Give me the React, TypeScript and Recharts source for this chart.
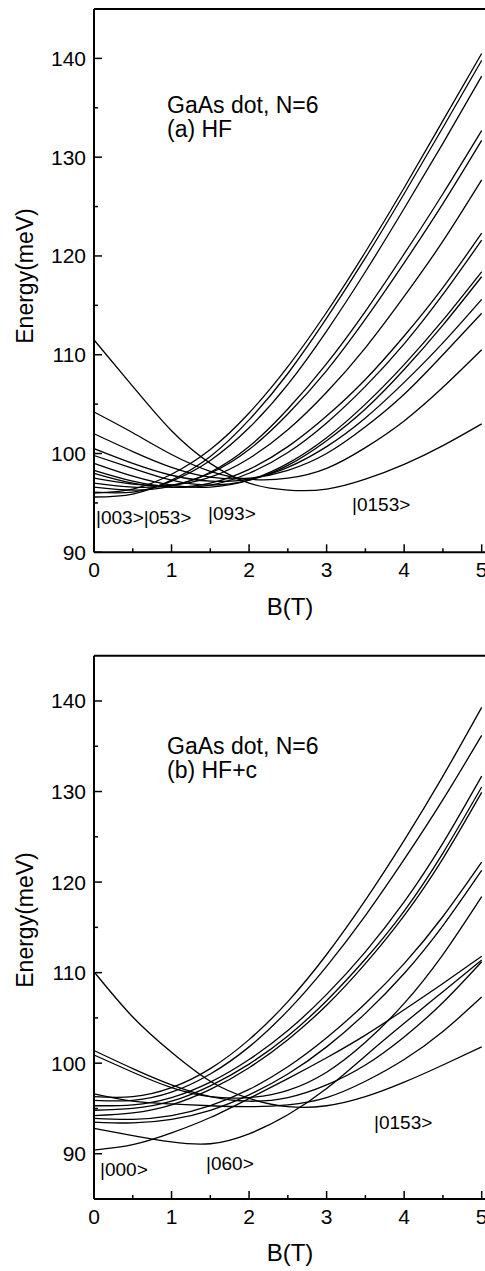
import { LineChart, Line, XAxis, YAxis, ReferenceLine } from 'recharts'

const FONT = '"Liberation Sans", Arial, sans-serif'

// magnetic field B (T)
const bField = [0, 0.5, 1, 1.5, 2, 2.5, 3, 3.5, 4, 4.5, 5]

// (a) HF levels, meV
const hf01 = [111.5, 106.8, 102.3, 99.0, 97.0, 96.3, 96.4, 97.4, 98.9, 100.8, 103.0]
const hf02 = [104.2, 102.1, 99.9, 98.2, 97.4, 97.5, 98.5, 100.6, 103.3, 106.7, 110.5]
const hf03 = [102.0, 100.2, 98.6, 97.6, 97.5, 98.3, 100.0, 102.7, 106.0, 110.0, 114.2]
const hf04 = [100.5, 99.0, 97.8, 97.2, 97.4, 98.6, 100.7, 103.6, 107.2, 111.2, 115.6]
const hf05 = [99.8, 98.5, 97.3, 96.8, 97.3, 98.8, 101.3, 104.5, 108.5, 113.0, 117.9]
const hf06 = [99.0, 97.7, 96.8, 96.6, 97.3, 99.0, 101.6, 105.0, 109.0, 113.5, 118.4]
const hf07 = [98.3, 97.2, 96.6, 96.8, 98.0, 100.1, 103.1, 106.8, 111.1, 116.1, 121.6]
const hf08 = [98.0, 97.0, 96.6, 97.0, 98.4, 100.7, 103.8, 107.5, 111.9, 116.8, 122.3]
const hf09 = [97.5, 96.9, 96.8, 97.6, 99.5, 102.4, 106.2, 110.7, 115.9, 121.5, 127.7]
const hf10 = [97.0, 96.6, 96.8, 98.0, 100.4, 104.0, 108.4, 113.6, 119.3, 125.3, 131.7]
const hf11 = [96.6, 96.3, 96.7, 98.1, 100.7, 104.5, 109.1, 114.4, 120.2, 126.3, 132.7]
const hf12 = [96.1, 96.1, 97.2, 99.3, 102.6, 107.0, 112.4, 118.4, 124.8, 131.4, 138.2]
const hf13 = [95.6, 95.9, 97.3, 99.7, 103.4, 108.1, 113.7, 119.8, 126.3, 133.0, 139.8]
const hf14 = [96.0, 96.4, 97.9, 100.4, 104.1, 108.8, 114.3, 120.4, 126.9, 133.7, 140.5]

// (b) HF+c levels, meV
const hfc01 = [110.1, 105.1, 101.2, 98.0, 96.1, 95.2, 95.3, 96.3, 97.9, 99.8, 101.8]
const hfc02 = [96.6, 95.8, 95.5, 95.3, 95.2, 95.4, 96.2, 98.0, 100.4, 103.5, 107.3]
const hfc03 = [101.4, 99.4, 97.6, 96.3, 95.8, 96.2, 97.6, 99.8, 102.9, 106.7, 111.2]
const hfc04 = [100.9, 99.0, 97.3, 96.3, 96.2, 97.0, 99.0, 102.3, 106.6, 112.0, 118.4]
const hfc05 = [92.8, 92.0, 91.3, 91.1, 92.2, 94.3, 97.2, 100.8, 104.4, 107.9, 111.4]
const hfc06 = [90.4, 91.0, 92.3, 94.0, 96.1, 98.3, 100.6, 103.1, 105.9, 108.8, 111.8]
const hfc07 = [96.3, 96.3, 97.3, 99.4, 102.6, 106.8, 112.0, 118.0, 124.6, 131.7, 139.3]
const hfc08 = [95.9, 95.9, 96.8, 98.8, 101.8, 105.8, 110.7, 116.3, 122.5, 129.1, 136.2]
const hfc09 = [95.3, 95.4, 96.2, 97.9, 100.4, 103.6, 107.6, 112.3, 117.8, 124.3, 131.7]
const hfc10 = [94.8, 95.0, 95.8, 97.5, 99.9, 103.0, 106.9, 111.5, 116.8, 123.2, 130.5]
const hfc11 = [94.2, 94.5, 95.4, 97.1, 99.5, 102.6, 106.4, 111.0, 116.3, 122.6, 129.9]
const hfc12 = [93.9, 93.8, 94.2, 95.3, 97.1, 99.6, 102.8, 106.6, 111.0, 116.2, 122.2]
const hfc13 = [93.5, 93.4, 93.8, 94.8, 96.5, 98.8, 101.8, 105.5, 109.9, 115.2, 121.3]

const hfLevels = [hf01, hf02, hf03, hf04, hf05, hf06, hf07, hf08, hf09, hf10, hf11, hf12, hf13, hf14]
const hfcLevels = [hfc01, hfc02, hfc03, hfc04, hfc05, hfc06, hfc07, hfc08, hfc09, hfc10, hfc11, hfc12, hfc13]

const xTicks = [0, 0.5, 1, 1.5, 2, 2.5, 3, 3.5, 4, 4.5, 5]
const yTicks = [90, 95, 100, 105, 110, 115, 120, 125, 130, 135, 140]

function toRows(levels: number[][]) {
  return bField.map((b, i) => {
    const row: Record<string, number> = { b }
    levels.forEach((s, k) => { row['s' + k] = s[i] })
    return row
  })
}

function YTick(props: any) {
  const { x, y, payload } = props
  const major = payload.value % 10 === 0
  const ax = x + 8
  return (
    <g>
      <line x1={ax} x2={ax + (major ? 8 : 4)} y1={y} y2={y} stroke="#000" strokeWidth={1.5} />
      {major && (
        <text x={x} y={y} dy={7.5} textAnchor="end" fontSize={21} fontFamily={FONT} fill="#000">
          {payload.value}
        </text>
      )}
    </g>
  )
}

function XTick(props: any) {
  const { x, y, payload } = props
  const major = Number.isInteger(payload.value)
  const ay = y - 25
  return (
    <g>
      <line x1={x} x2={x} y1={ay} y2={ay - (major ? 8 : 4)} stroke="#000" strokeWidth={1.5} />
      {major && (
        <text x={x} y={y} textAnchor="middle" fontSize={21} fontFamily={FONT} fill="#000">
          {payload.value}
        </text>
      )}
    </g>
  )
}

interface PanelProps {
  levels: number[][]
  yMin: number
  top: number
  height: number
  marginTop: number
  marginBottom: number
  tag: string
  states: { text: string; x: number; y: number }[]
  noteY: number
  yTitleY: number
  xTitleY: number
}

function Panel({ levels, yMin, top, height, marginTop, marginBottom, tag, states, noteY, yTitleY, xTitleY }: PanelProps) {
  const rows = toRows(levels)
  return (
    <div style={{ position: 'absolute', left: 0, top }}>
      <LineChart width={510} height={height} data={rows} margin={{ top: marginTop, right: 12.8, bottom: marginBottom, left: 34 }}>
        <XAxis
          type="number"
          dataKey="b"
          domain={[0, 5.2]}
          ticks={xTicks}
          interval={0}
          tick={<XTick />}
          tickLine={false}
          tickSize={0}
          tickMargin={25}
          height={30}
          axisLine={{ stroke: '#000', strokeWidth: 2 }}
        />
        <YAxis
          type="number"
          domain={[yMin, 145]}
          ticks={yTicks}
          interval={0}
          tick={<YTick />}
          tickLine={false}
          tickSize={0}
          tickMargin={8}
          width={60}
          allowDataOverflow
          axisLine={{ stroke: '#000', strokeWidth: 2 }}
        />
        <ReferenceLine y={145} stroke="#000" strokeWidth={2} />
        {levels.map((_, k) => (
          <Line
            key={k}
            type="natural"
            dataKey={'s' + k}
            stroke="#000"
            strokeWidth={1.3}
            dot={false}
            isAnimationActive={false}
          />
        ))}
        <text x={167} y={noteY} fontSize={23} fontFamily={FONT} fill="#000">GaAs dot, N=6</text>
        <text x={167} y={noteY + 24} fontSize={23} fontFamily={FONT} fill="#000">{tag}</text>
        {states.map((s) => (
          <text key={s.text + s.x} x={s.x} y={s.y} fontSize={19} fontFamily={FONT} fill="#000">{s.text}</text>
        ))}
        <text
          x={33}
          y={yTitleY}
          transform={`rotate(-90 33 ${yTitleY})`}
          textAnchor="middle"
          fontSize={23}
          fontFamily={FONT}
          fill="#000"
        >
          Energy(meV)
        </text>
        <text x={290} y={xTitleY} textAnchor="middle" fontSize={24} fontFamily={FONT} fill="#000">B(T)</text>
      </LineChart>
    </div>
  )
}

export default function App() {
  return (
    <div style={{ position: 'absolute', left: 0, top: 0, width: 485, height: 1271, overflow: 'hidden', background: '#fff' }}>
      <Panel
        levels={hfLevels}
        yMin={90}
        top={0}
        height={640}
        marginTop={9}
        marginBottom={57.7}
        tag="(a) HF"
        states={[
          { text: '|003>|053>', x: 96, y: 524 },
          { text: '|093>', x: 208, y: 520 },
          { text: '|0153>', x: 352, y: 511 },
        ]}
        noteY={113}
        yTitleY={276}
        xTitleY={615}
      />
      <Panel
        levels={hfcLevels}
        yMin={85}
        top={640}
        height={631}
        marginTop={15.7}
        marginBottom={42}
        tag="(b) HF+c"
        states={[
          { text: '|000>', x: 100, y: 536 },
          { text: '|060>', x: 206, y: 530 },
          { text: '|0153>', x: 374, y: 489 },
        ]}
        noteY={114}
        yTitleY={280}
        xTitleY={621}
      />
    </div>
  )
}
